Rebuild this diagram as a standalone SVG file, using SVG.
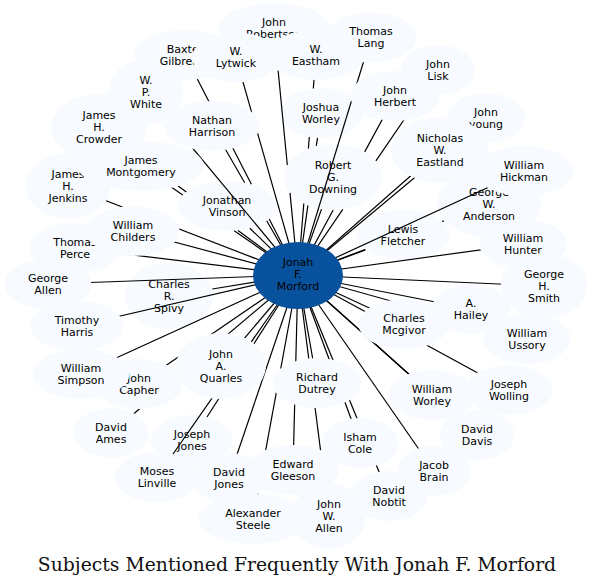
<svg xmlns="http://www.w3.org/2000/svg" width="594" height="586" viewBox="0 0 594 586">
<style>
.nd{fill:#f7fbff}
.t{font-family:"DejaVu Sans","Liberation Sans",sans-serif;font-size:11px;text-anchor:middle;fill:#000}
.e{stroke:#000;stroke-width:1.2;fill:none}
.ttl{font-family:"DejaVu Serif","Liberation Serif",serif;font-size:18.8px;text-anchor:middle;fill:#111}
</style>
<rect width="594" height="586" fill="#fff"/>
<g id="n-downing"><ellipse class="nd" cx="333" cy="177" rx="49" ry="33"/><text class="t"><tspan x="333" y="168.5">Robert</tspan><tspan x="333" y="180.5">G.</tspan><tspan x="333" y="192.5">Downing</tspan></text></g>
<g id="n-jworley"><ellipse class="nd" cx="321" cy="113" rx="42.2" ry="25"/><text class="t"><tspan x="321" y="110.5">Joshua</tspan><tspan x="321" y="122.5">Worley</tspan></text></g>
<g id="n-vinson"><ellipse class="nd" cx="227" cy="206" rx="49.4" ry="25"/><text class="t"><tspan x="227" y="203.5">Jonathan</tspan><tspan x="227" y="215.5">Vinson</tspan></text></g>
<g id="n-fletcher"><ellipse class="nd" cx="403" cy="235" rx="46.7" ry="25"/><text class="t"><tspan x="403" y="232.5">Lewis</tspan><tspan x="403" y="244.5">Fletcher</tspan></text></g>
<g id="n-anderson"><ellipse class="nd" cx="489" cy="204" rx="52" ry="33"/><text class="t"><tspan x="489" y="195.5">George</tspan><tspan x="489" y="207.5">W.</tspan><tspan x="489" y="219.5">Anderson</tspan></text></g>
<g id="n-spivy"><ellipse class="nd" cx="169" cy="296" rx="44.3" ry="33"/><text class="t"><tspan x="169" y="287.5">Charles</tspan><tspan x="169" y="299.5">R.</tspan><tspan x="169" y="311.5">Spivy</tspan></text></g>
<g id="n-josephjones"><ellipse class="nd" cx="192" cy="440" rx="40.7" ry="25"/><text class="t"><tspan x="192" y="437.5">Joseph</tspan><tspan x="192" y="449.5">Jones</tspan></text></g>
<g id="connectors" class="e">
<path d="M298 275L269.2 219M251.4 184.3L185 55"/>
<path d="M298 275L236 57.5"/>
<path d="M298 275L290 192.9M287.3 165L274 28"/>
<path d="M298 275L303.8 203.5M308.4 148.5L309.3 137M313.3 88.5L316 55"/>
<path d="M298 275L371 37.5"/>
<path d="M298 275L342.8 209.4M375.9 160.9L438 70"/>
<path d="M298 275L333.2 210M364.7 151.9L395 96"/>
<path d="M298 275L307.9 205.3M316.3 145.9L317.5 137.9"/>
<path d="M298 275L146 92"/>
<path d="M298 275L266.7 220.8M244.7 182.7L212 126"/>
<path d="M298 275L238 230.4M186.3 191.9L99 127"/>
<path d="M298 275L234.2 230.7M182.7 195L141 166"/>
<path d="M298 275L321.5 209.1"/>
<path d="M298 275L486 118"/>
<path d="M298 275L440 150"/>
<path d="M298 275L524 171"/>
<path d="M298 275L68 186"/>
<path d="M298 275L249.8 228.2"/>
<path d="M298 275L365.5 249.9M442.1 221.4L444 221"/>
<path d="M298 275L133 231"/>
<path d="M298 275L365 249.5"/>
<path d="M298 275L75 248"/>
<path d="M298 275L523 244"/>
<path d="M298 275L48 284"/>
<path d="M298 275L212.3 289"/>
<path d="M298 275L544 286"/>
<path d="M298 275L471 309"/>
<path d="M298 275L77 326"/>
<path d="M298 275L404 324"/>
<path d="M298 275L527 339"/>
<path d="M298 275L81 374"/>
<path d="M298 275L139 384"/>
<path d="M298 275L221 366"/>
<path d="M298 275L317 383"/>
<path d="M298 275L432 395"/>
<path d="M298 275L509 390"/>
<path d="M298 275L111 433"/>
<path d="M298 275L207 417"/>
<path d="M298 275L360 443"/>
<path d="M298 275L477 435"/>
<path d="M298 275L157 477"/>
<path d="M298 275L229 478"/>
<path d="M298 275L293 470"/>
<path d="M298 275L434 471"/>
<path d="M298 275L389 496"/>
<path d="M298 275L253 519"/>
<path d="M298 275L329 516"/>
</g>
<g id="n-jenkins"><ellipse class="nd" cx="68" cy="186" rx="42.6" ry="33"/><text class="t"><tspan x="68" y="177.5">James</tspan><tspan x="68" y="189.5">H.</tspan><tspan x="68" y="201.5">Jenkins</tspan></text></g>
<g id="n-montgomery"><ellipse class="nd" cx="141" cy="166" rx="63" ry="25"/><text class="t"><tspan x="141" y="163.5">James</tspan><tspan x="141" y="175.5">Montgomery</tspan></text></g>
<g id="n-crowder"><ellipse class="nd" cx="99" cy="127" rx="47.7" ry="33"/><text class="t"><tspan x="99" y="118.5">James</tspan><tspan x="99" y="130.5">H.</tspan><tspan x="99" y="142.5">Crowder</tspan></text></g>
<g id="n-white"><ellipse class="nd" cx="146" cy="92" rx="37.6" ry="33"/><text class="t"><tspan x="146" y="83.5">W.</tspan><tspan x="146" y="95.5">P.</tspan><tspan x="146" y="107.5">White</tspan></text></g>
<g id="n-robertson"><ellipse class="nd" cx="274" cy="28" rx="55" ry="25"/><text class="t"><tspan x="274" y="25.5">John</tspan><tspan x="274" y="37.5">Robertson</tspan></text></g>
<g id="n-gilbreath"><ellipse class="nd" cx="185" cy="55" rx="51" ry="25"/><text class="t"><tspan x="185" y="52.5">Baxter</tspan><tspan x="185" y="64.5">Gilbreath</tspan></text></g>
<g id="n-lytwick"><ellipse class="nd" cx="236" cy="57.5" rx="44" ry="25"/><text class="t"><tspan x="236" y="55">W.</tspan><tspan x="236" y="67">Lytwick</tspan></text></g>
<g id="n-eastham"><ellipse class="nd" cx="316" cy="55" rx="49" ry="25"/><text class="t"><tspan x="316" y="52.5">W.</tspan><tspan x="316" y="64.5">Eastham</tspan></text></g>
<g id="n-lang"><ellipse class="nd" cx="371" cy="37.5" rx="45.8" ry="25"/><text class="t"><tspan x="371" y="35">Thomas</tspan><tspan x="371" y="47">Lang</tspan></text></g>
<g id="n-lisk"><ellipse class="nd" cx="438" cy="70" rx="37" ry="25"/><text class="t"><tspan x="438" y="67.5">John</tspan><tspan x="438" y="79.5">Lisk</tspan></text></g>
<g id="n-herbert"><ellipse class="nd" cx="395" cy="96" rx="44.7" ry="25"/><text class="t"><tspan x="395" y="93.5">John</tspan><tspan x="395" y="105.5">Herbert</tspan></text></g>
<g id="n-young"><ellipse class="nd" cx="486" cy="118" rx="39.2" ry="25"/><text class="t"><tspan x="486" y="115.5">John</tspan><tspan x="486" y="127.5">young</tspan></text></g>
<g id="n-eastland"><ellipse class="nd" cx="440" cy="150" rx="48.6" ry="33"/><text class="t"><tspan x="440" y="141.5">Nicholas</tspan><tspan x="440" y="153.5">W.</tspan><tspan x="440" y="165.5">Eastland</tspan></text></g>
<g id="n-hickman"><ellipse class="nd" cx="524" cy="171" rx="49.1" ry="25"/><text class="t"><tspan x="524" y="168.5">William</tspan><tspan x="524" y="180.5">Hickman</tspan></text></g>
<g id="n-harrison"><ellipse class="nd" cx="212" cy="126" rx="47.9" ry="25"/><text class="t"><tspan x="212" y="123.5">Nathan</tspan><tspan x="212" y="135.5">Harrison</tspan></text></g>
<g id="n-perce"><ellipse class="nd" cx="75" cy="248" rx="45.8" ry="25"/><text class="t"><tspan x="75" y="245.5">Thomas</tspan><tspan x="75" y="257.5">Perce</tspan></text></g>
<g id="n-childers"><ellipse class="nd" cx="133" cy="231" rx="46.7" ry="25"/><text class="t"><tspan x="133" y="228.5">William</tspan><tspan x="133" y="240.5">Childers</tspan></text></g>
<g id="n-hunter"><ellipse class="nd" cx="523" cy="244" rx="43.7" ry="25"/><text class="t"><tspan x="523" y="241.5">William</tspan><tspan x="523" y="253.5">Hunter</tspan></text></g>
<g id="n-georgeallen"><ellipse class="nd" cx="48" cy="284" rx="43.3" ry="25"/><text class="t"><tspan x="48" y="281.5">George</tspan><tspan x="48" y="293.5">Allen</tspan></text></g>
<g id="n-smith"><ellipse class="nd" cx="544" cy="286" rx="43.3" ry="33"/><text class="t"><tspan x="544" y="277.5">George</tspan><tspan x="544" y="289.5">H.</tspan><tspan x="544" y="301.5">Smith</tspan></text></g>
<g id="n-hailey"><ellipse class="nd" cx="471" cy="309" rx="39.3" ry="25"/><text class="t"><tspan x="471" y="306.5">A.</tspan><tspan x="471" y="318.5">Hailey</tspan></text></g>
<g id="n-harris"><ellipse class="nd" cx="77" cy="326" rx="46.8" ry="25"/><text class="t"><tspan x="77" y="323.5">Timothy</tspan><tspan x="77" y="335.5">Harris</tspan></text></g>
<g id="n-mcgivor"><ellipse class="nd" cx="404" cy="324" rx="45.7" ry="25"/><text class="t"><tspan x="404" y="321.5">Charles</tspan><tspan x="404" y="333.5">Mcgivor</tspan></text></g>
<g id="n-ussory"><ellipse class="nd" cx="527" cy="339" rx="43.7" ry="25"/><text class="t"><tspan x="527" y="336.5">William</tspan><tspan x="527" y="348.5">Ussory</tspan></text></g>
<g id="n-capher"><ellipse class="nd" cx="139" cy="384" rx="43" ry="25"/><text class="t"><tspan x="139" y="381.5">John</tspan><tspan x="139" y="393.5">Capher</tspan></text></g>
<g id="n-simpson"><ellipse class="nd" cx="81" cy="374" rx="48.4" ry="25"/><text class="t"><tspan x="81" y="371.5">William</tspan><tspan x="81" y="383.5">Simpson</tspan></text></g>
<g id="n-quarles"><ellipse class="nd" cx="221" cy="366" rx="45" ry="33"/><text class="t"><tspan x="221" y="357.5">John</tspan><tspan x="221" y="369.5">A.</tspan><tspan x="221" y="381.5">Quarles</tspan></text></g>
<g id="n-dutrey"><ellipse class="nd" cx="317" cy="383" rx="44.7" ry="25"/><text class="t"><tspan x="317" y="380.5">Richard</tspan><tspan x="317" y="392.5">Dutrey</tspan></text></g>
<g id="n-wworley"><ellipse class="nd" cx="432" cy="395" rx="43.7" ry="25"/><text class="t"><tspan x="432" y="392.5">William</tspan><tspan x="432" y="404.5">Worley</tspan></text></g>
<g id="n-wolling"><ellipse class="nd" cx="509" cy="390" rx="43.8" ry="25"/><text class="t"><tspan x="509" y="387.5">Joseph</tspan><tspan x="509" y="399.5">Wolling</tspan></text></g>
<g id="n-ames"><ellipse class="nd" cx="111" cy="433" rx="37.5" ry="25"/><text class="t"><tspan x="111" y="430.5">David</tspan><tspan x="111" y="442.5">Ames</tspan></text></g>
<g id="n-cole"><ellipse class="nd" cx="360" cy="443" rx="38.6" ry="25"/><text class="t"><tspan x="360" y="440.5">Isham</tspan><tspan x="360" y="452.5">Cole</tspan></text></g>
<g id="n-davis"><ellipse class="nd" cx="477" cy="435" rx="37.5" ry="25"/><text class="t"><tspan x="477" y="432.5">David</tspan><tspan x="477" y="444.5">Davis</tspan></text></g>
<g id="n-linville"><ellipse class="nd" cx="157" cy="477" rx="42.3" ry="25"/><text class="t"><tspan x="157" y="474.5">Moses</tspan><tspan x="157" y="486.5">Linville</tspan></text></g>
<g id="n-davidjones"><ellipse class="nd" cx="229" cy="478" rx="37.5" ry="25"/><text class="t"><tspan x="229" y="475.5">David</tspan><tspan x="229" y="487.5">Jones</tspan></text></g>
<g id="n-gleeson"><ellipse class="nd" cx="293" cy="470" rx="46.5" ry="25"/><text class="t"><tspan x="293" y="467.5">Edward</tspan><tspan x="293" y="479.5">Gleeson</tspan></text></g>
<g id="n-nobtit"><ellipse class="nd" cx="389" cy="496" rx="38.8" ry="25"/><text class="t"><tspan x="389" y="493.5">David</tspan><tspan x="389" y="505.5">Nobtit</tspan></text></g>
<g id="n-brain"><ellipse class="nd" cx="434" cy="471" rx="37" ry="25"/><text class="t"><tspan x="434" y="468.5">Jacob</tspan><tspan x="434" y="480.5">Brain</tspan></text></g>
<g id="n-steele"><ellipse class="nd" cx="253" cy="519" rx="54.5" ry="25"/><text class="t"><tspan x="253" y="516.5">Alexander</tspan><tspan x="253" y="528.5">Steele</tspan></text></g>
<g id="n-johnallen"><ellipse class="nd" cx="329" cy="516" rx="37" ry="33"/><text class="t"><tspan x="329" y="507.5">John</tspan><tspan x="329" y="519.5">W.</tspan><tspan x="329" y="531.5">Allen</tspan></text></g>
<g id="n-morford"><ellipse cx="298" cy="275.5" rx="45" ry="33.5" fill="#08519c"/><text class="t"><tspan x="298" y="266">Jonah</tspan><tspan x="298" y="278">F.</tspan><tspan x="298" y="290">Morford</tspan></text></g>
<text class="ttl" x="297" y="571">Subjects Mentioned Frequently With Jonah F. Morford</text>
</svg>
